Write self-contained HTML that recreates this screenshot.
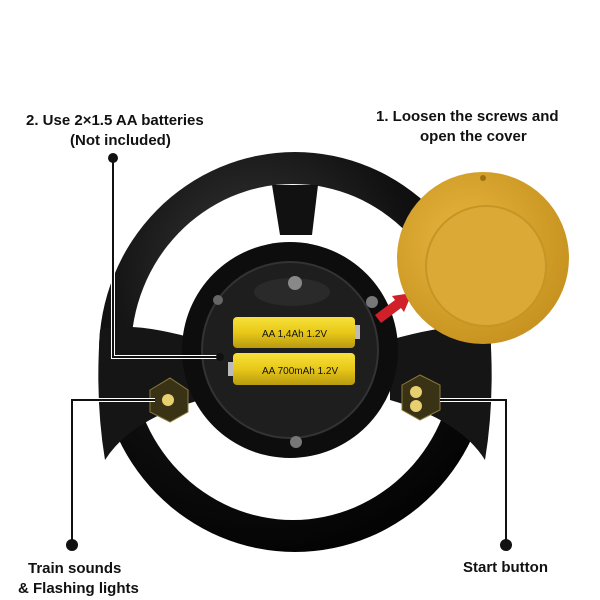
<!DOCTYPE html>
<html><head><meta charset="utf-8"><style>
html,body{margin:0;padding:0;background:#fff;width:600px;height:600px;overflow:hidden}
svg{display:block}
text{font-family:"Liberation Sans",sans-serif;font-weight:bold;font-size:15px;fill:#111}
</style></head><body>
<svg width="600" height="600" viewBox="0 0 600 600">
<defs>
<radialGradient id="blk" cx="40%" cy="30%" r="80%"><stop offset="0" stop-color="#3a3a3a"/><stop offset="0.5" stop-color="#111"/><stop offset="1" stop-color="#000"/></radialGradient>
<radialGradient id="gold" cx="40%" cy="40%" r="70%"><stop offset="0" stop-color="#e8b640"/><stop offset="1" stop-color="#c48f1c"/></radialGradient>
<linearGradient id="bat" x1="0" y1="0" x2="0" y2="1"><stop offset="0" stop-color="#f7e23a"/><stop offset="0.5" stop-color="#e8c818"/><stop offset="1" stop-color="#b89a10"/></linearGradient>
</defs>
<ellipse cx="295" cy="352" rx="196" ry="200" fill="url(#blk)"/>
<ellipse cx="293" cy="352" rx="162" ry="168" fill="#fff"/>
<path d="M272 185 L318 185 L312 235 L280 235 Z" fill="#111"/>
<path d="M100 330 Q130 320 200 340 L200 400 Q130 420 105 460 Q95 400 100 330Z" fill="#151515"/>
<path d="M490 330 Q460 320 390 340 L390 400 Q460 420 485 460 Q495 400 490 330Z" fill="#151515"/>
<circle cx="290" cy="350" r="108" fill="#0d0d0d"/>
<circle cx="290" cy="350" r="88" fill="#1e1e1e" stroke="#333" stroke-width="2"/>
<ellipse cx="292" cy="292" rx="38" ry="14" fill="#2a2a2a"/>
<circle cx="295" cy="283" r="7" fill="#888"/>
<circle cx="372" cy="302" r="6" fill="#777"/>
<circle cx="218" cy="300" r="5" fill="#666"/>
<circle cx="296" cy="442" r="6" fill="#777"/>
<rect x="233" y="317" width="122" height="31" rx="4" fill="url(#bat)"/>
<rect x="233" y="353" width="122" height="32" rx="4" fill="url(#bat)"/>
<rect x="355" y="325" width="5" height="14" fill="#bbb"/>
<rect x="228" y="362" width="5" height="14" fill="#bbb"/>
<text x="262" y="337" style="font-size:10px;font-weight:normal">AA 1,4Ah 1.2V</text>
<text x="262" y="374" style="font-size:10px;font-weight:normal">AA 700mAh 1.2V</text>
<path d="M150 390 L170 378 L188 390 L188 412 L170 422 L150 412Z" fill="#3a3214" stroke="#8a7a3a"/>
<circle cx="168" cy="400" r="6" fill="#e8d070"/>
<path d="M402 385 L420 375 L440 385 L440 410 L420 420 L402 410Z" fill="#3a3214" stroke="#8a7a3a"/>
<circle cx="416" cy="392" r="6" fill="#e8d070"/><circle cx="416" cy="406" r="6" fill="#e8d070"/>
<path d="M375 315 L395 300 L392 296 L412 293 L404 312 L401 308 L381 323Z" fill="#d0202a"/>
<circle cx="483" cy="258" r="86" fill="url(#gold)"/>
<circle cx="486" cy="266" r="60" fill="#dba936" stroke="#c59526" stroke-width="2"/>
<circle cx="483" cy="178" r="3" fill="#a07010"/>
<g stroke="#fff" stroke-width="4" fill="none">
<polyline points="113,158 113,357 220,357"/>
<polyline points="72,545 72,400 155,400"/>
<polyline points="506,545 506,400 440,400"/>
</g>
<g stroke="#111" stroke-width="2" fill="none">
<polyline points="113,158 113,357 220,357"/>
<polyline points="72,545 72,400 155,400"/>
<polyline points="506,545 506,400 440,400"/>
</g>
<g fill="#111">
<circle cx="113" cy="158" r="5"/><circle cx="220" cy="357" r="4"/>
<circle cx="72" cy="545" r="6"/><circle cx="506" cy="545" r="6"/>
</g>
<text x="26" y="125">2. Use 2×1.5 AA batteries</text>
<text x="70" y="145">(Not included)</text>
<text x="376" y="121">1. Loosen the screws and</text>
<text x="420" y="141">open the cover</text>
<text x="28" y="573">Train sounds</text>
<text x="18" y="593">&amp; Flashing lights</text>
<text x="463" y="572">Start button</text>
</svg>
</body></html>
